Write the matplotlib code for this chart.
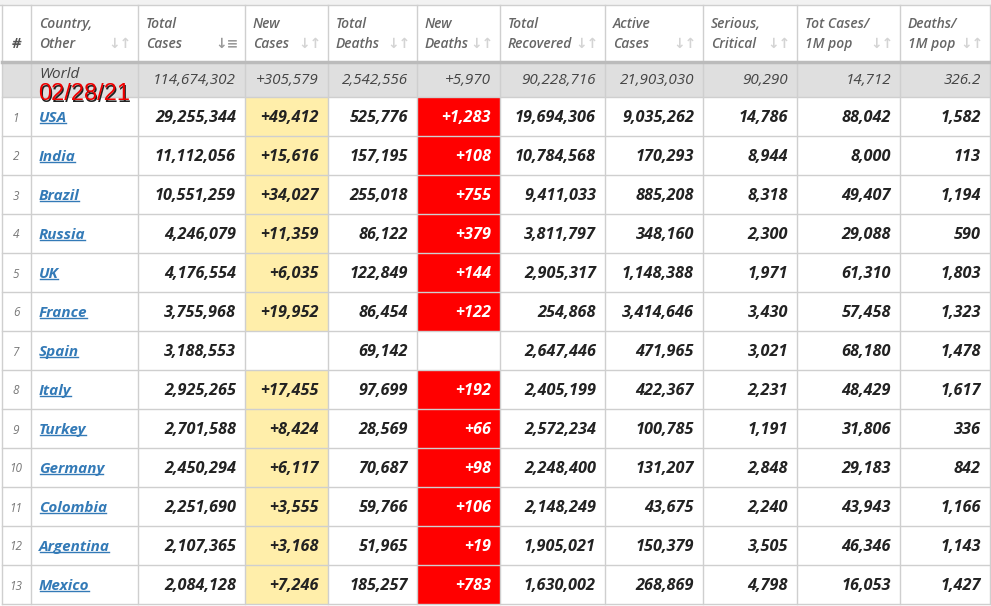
import matplotlib
matplotlib.use("Agg")
import matplotlib.pyplot as plt
from matplotlib.patches import Rectangle

# table data
headers = ["Country,\nOther", "Total\nCases", "New\nCases", "Total\nDeaths", "New\nDeaths",
           "Total\nRecovered", "Active\nCases", "Serious,\nCritical", "Tot Cases/\n1M pop",
           "Deaths/\n1M pop"]
world = ["World", "114,674,302", "+305,579", "2,542,556", "+5,970", "90,228,716",
         "21,903,030", "90,290", "14,712", "326.2"]
countries = ["USA", "India", "Brazil", "Russia", "UK", "France", "Spain", "Italy",
             "Turkey", "Germany", "Colombia", "Argentina", "Mexico"]
total_cases = ["29,255,344", "11,112,056", "10,551,259", "4,246,079", "4,176,554",
               "3,755,968", "3,188,553", "2,925,265", "2,701,588", "2,450,294",
               "2,251,690", "2,107,365", "2,084,128"]
new_cases = ["+49,412", "+15,616", "+34,027", "+11,359", "+6,035", "+19,952", "",
             "+17,455", "+8,424", "+6,117", "+3,555", "+3,168", "+7,246"]
total_deaths = ["525,776", "157,195", "255,018", "86,122", "122,849", "86,454", "69,142",
                "97,699", "28,569", "70,687", "59,766", "51,965", "185,257"]
new_deaths = ["+1,283", "+108", "+755", "+379", "+144", "+122", "", "+192", "+66", "+98",
              "+106", "+19", "+783"]
total_recovered = ["19,694,306", "10,784,568", "9,411,033", "3,811,797", "2,905,317",
                   "254,868", "2,647,446", "2,405,199", "2,572,234", "2,248,400",
                   "2,148,249", "1,905,021", "1,630,002"]
active_cases = ["9,035,262", "170,293", "885,208", "348,160", "1,148,388", "3,414,646",
                "471,965", "422,367", "100,785", "131,207", "43,675", "150,379", "268,869"]
serious = ["14,786", "8,944", "8,318", "2,300", "1,971", "3,430", "3,021", "2,231",
           "1,191", "2,848", "2,240", "3,505", "4,798"]
cases_per_m = ["88,042", "8,000", "49,407", "29,088", "61,310", "57,458", "68,180",
               "48,429", "31,806", "29,183", "43,943", "46,346", "16,053"]
deaths_per_m = ["1,582", "113", "1,194", "590", "1,803", "1,323", "1,478", "1,617",
                "336", "842", "1,166", "1,143", "1,427"]
date_stamp = "02/28/21"

columns = [countries, total_cases, new_cases, total_deaths, new_deaths, total_recovered,
           active_cases, serious, cases_per_m, deaths_per_m]

# layout in pixels
W, H = 991, 606
col_edges = [2, 31, 138, 245, 328, 417, 500, 605, 703, 797, 900, 990]
header_top, header_bot = 5, 62
world_bot = 97
row_h = 39

fig = plt.figure(figsize=(W / 100, H / 100), dpi=100)
ax = fig.add_axes([0, 0, 1, 1])
ax.set_xlim(0, W)
ax.set_ylim(H, 0)
ax.axis("off")

FONT = "Open Sans"
grid_c = "#cfcfcf"

# top strip
ax.add_patch(Rectangle((0, 0), W, header_top, color="#f2f2f2", lw=0))
# world row background
ax.add_patch(Rectangle((col_edges[0], header_bot), col_edges[-1] - col_edges[0],
                       world_bot - header_bot, color="#dfdfdf", lw=0))

# coloured cells
for i in range(len(countries)):
    y0 = world_bot + i * row_h
    if new_cases[i]:
        ax.add_patch(Rectangle((col_edges[3], y0), col_edges[4] - col_edges[3], row_h,
                               color="#ffeeaa", lw=0))
    if new_deaths[i]:
        ax.add_patch(Rectangle((col_edges[5], y0), col_edges[6] - col_edges[5], row_h,
                               color="#ff0000", lw=0))

# grid lines
bottom = world_bot + len(countries) * row_h
for x in col_edges:
    ax.plot([x, x], [header_top, bottom], color=grid_c, lw=1)
ax.plot([0, W], [header_top, header_top], color=grid_c, lw=1)
ax.plot([col_edges[0], col_edges[-1]], [header_bot, header_bot], color="#bbbbbb", lw=2.5)
for i in range(len(countries) + 1):
    y = world_bot + i * row_h
    ax.plot([col_edges[0], col_edges[-1]], [y, y], color=grid_c, lw=1)

# header
ax.text(16, 44, "#", ha="center", va="center", fontsize=10.5, fontweight="bold",
        style="italic", color="#555555", family=FONT)
for j, h in enumerate(headers):
    left, right = col_edges[j + 1], col_edges[j + 2]
    ax.text(left + 8, 34, h, ha="left", va="center", fontsize=10, fontweight="semibold",
            style="italic", color="#666666", family=FONT, linespacing=1.5)
    icon = "↓≡" if j == 1 else "↓↑"
    icon_c = "#999999" if j == 1 else "#d4d4d4"
    ax.text(right - 6, 44, icon, ha="right", va="center", fontsize=10, fontweight="bold",
            color=icon_c, family="DejaVu Sans")

# world row
wy = (header_bot + world_bot) / 2
ax.text(col_edges[1] + 8, wy - 5, world[0], ha="left", va="center", fontsize=11,
        style="italic", color="#444444", family=FONT)
for j in range(1, len(world)):
    ax.text(col_edges[j + 2] - 9, wy + 0.5, world[j], ha="right", va="center", fontsize=11,
            style="italic", color="#444444", family=FONT)

# date stamp with shadow
ax.text(39.5, 95.5, date_stamp, ha="left", va="center", fontsize=17, color="#222222",
        family="Liberation Sans")
ax.text(38, 94, date_stamp, ha="left", va="center", fontsize=17, color="#ee0000",
        family="Liberation Sans")

# data rows
name_texts = []
for i in range(len(countries)):
    cy = world_bot + i * row_h + row_h / 2 + 1.5
    ax.text(16, cy, str(i + 1), ha="center", va="center", fontsize=8.5, style="italic",
            color="#777777", family=FONT)
    t = ax.text(col_edges[1] + 8, cy, countries[i], ha="left", va="center", fontsize=11,
                fontweight="bold", style="italic", color="#337ab7", family=FONT)
    name_texts.append(t)
    for j in range(1, len(columns)):
        val = columns[j][i]
        if not val:
            continue
        c = "white" if j == 4 else "#222222"
        ax.text(col_edges[j + 2] - 9, cy, val, ha="right", va="center", fontsize=11.7,
                fontweight="bold", style="italic", color=c, family=FONT)

# underline country names
fig.canvas.draw()
inv = ax.transData.inverted()
for t in name_texts:
    bb = t.get_window_extent().transformed(inv)
    x0, x1 = sorted([bb.x0, bb.x1])
    ybase = max(bb.y0, bb.y1) - 2
    ax.plot([x0 + 1, x1 - 1], [ybase, ybase], color="#337ab7", lw=1)

fig.savefig("out.png", dpi=100)
